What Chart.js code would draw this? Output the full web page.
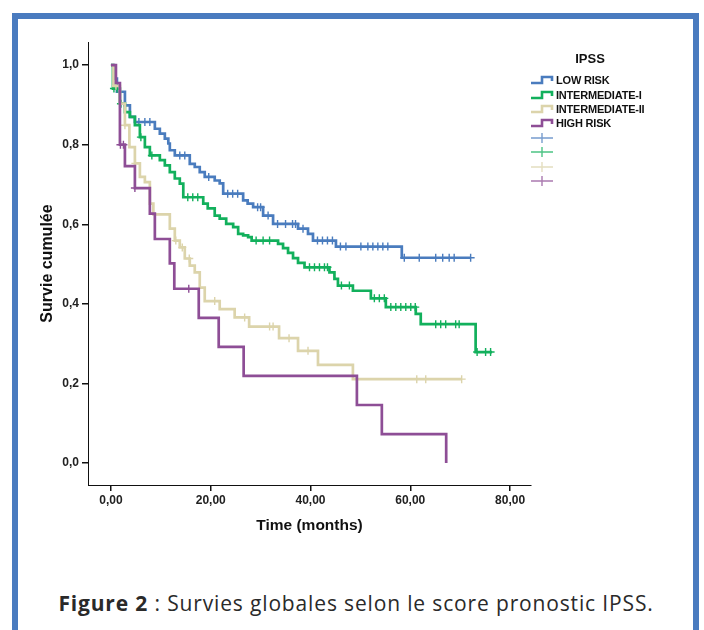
<!DOCTYPE html>
<html lang="fr">

<head>
    <meta charset="UTF-8">
    <title>Figure 2</title>
    <script src="https://cdn.jsdelivr.net/npm/chart.js@4.4.0/dist/chart.umd.min.js"></script>
    <style>
        body { margin: 0; background: #fff; width: 704px; height: 630px; overflow: hidden; position: relative; }
        #frame { position: absolute; left: 12px; top: 13px; width: 675px; height: 700px;
                 border: 6px solid #4a7bbf; border-bottom: none; }
        #km { position: absolute; left: 0; top: 0; }
        #legend { position: absolute; left: 530px; top: 51px; font-family: "Liberation Sans", Arial, sans-serif;
                  font-weight: bold; font-size: 11px; color: #111; }
        #legend .ttl { font-size: 13px; text-align: center; width: 120px; margin-bottom: 7px; }
        #legend .row { height: 14.4px; display: flex; align-items: center; letter-spacing: -0.2px; }
        #legend svg { margin-right: 2px; }
        #caption { position: absolute; left: 0; top: 589px; width: 712px; text-align: center;
                   font-family: "Open Sans", sans-serif; font-size: 21px; letter-spacing: 0.85px; color: #2a2a2a; }
    </style>
</head>

<body>
    <div id="frame"></div>
    <canvas id="km" width="540" height="540"></canvas>
    <div id="legend"></div>
    <div id="caption"><b>Figure 2</b> : Survies globales selon le score pronostic IPSS.</div>

    <script>
        // IPSS groups
        const groupNames = ['LOW RISK', 'INTERMEDIATE-I', 'INTERMEDIATE-II', 'HIGH RISK'];
        const groupColors = ['#4a7cbe', '#12b05c', '#dcd4ab', '#8e4e96'];

        // LOW RISK : event times, survival after each time, censored times
        const lowT = [0, 0.6, 1.2, 2.8, 3.8, 4.8, 8.8, 9.8, 10.8, 11.5, 11.8, 12.8, 15.8, 16.8, 17.8, 18.8, 20.8, 21.8,
            22.5, 26.5, 27.4, 28.5, 30.5, 32.5, 37.5, 39.5, 40.5, 45.1, 58.3, 72.1];
        const lowS = [1, 0.966, 0.933, 0.899, 0.870, 0.857, 0.840, 0.828, 0.815, 0.803, 0.786, 0.773, 0.752, 0.744, 0.731, 0.719, 0.710, 0.703,
            0.677, 0.660, 0.652, 0.643, 0.622, 0.601, 0.589, 0.576, 0.559, 0.544, 0.516, 0.516];
        const lowCens = [5.6, 6.8, 7.8, 13.8, 14.8, 19.6, 23.4, 24.4, 25.4, 29.4, 30.0, 31.5, 33.4, 35.0, 36.4, 37.0, 38.5,
            41.4, 42.4, 43.4, 44.4, 46.0, 47.1, 50.1, 51.5, 52.5, 53.5, 54.5, 55.5, 58.8, 61.8, 65.1, 66.5, 67.8, 68.8, 72.1];

        // INTERMEDIATE-I
        const int1T = [0, 0.4, 1.8, 2.8, 3.8, 4.8, 5.8, 6.8, 7.8, 9.8, 10.8, 11.8, 12.8, 13.8, 14.5, 18.5, 19.4, 20.8, 21.8, 23.1,
            24.5, 25.5, 26.5, 27.5, 28.2, 33.5, 34.5, 35.5, 36.5, 37.5, 38.8, 43.8, 44.8, 45.5, 48.5, 52.1, 55.1, 61.1, 62.1, 73.1, 76.4];
        const int1S = [1, 0.941, 0.903, 0.882, 0.870, 0.849, 0.819, 0.794, 0.773, 0.761, 0.748, 0.731, 0.715, 0.702, 0.668, 0.652, 0.640, 0.622, 0.614, 0.601,
            0.593, 0.576, 0.572, 0.568, 0.559, 0.551, 0.540, 0.528, 0.515, 0.503, 0.492, 0.479, 0.463, 0.446, 0.433, 0.414, 0.392, 0.375, 0.349, 0.279, 0.279];
        const int1Cens = [0.6, 1.2, 2.0, 6.0, 8.2, 15.4, 16.4, 17.4, 29.1, 30.5, 31.8, 39.8, 40.8, 41.8, 42.8, 43.4, 46.2, 47.8,
            52.8, 53.8, 54.8, 56.1, 57.1, 58.1, 59.1, 60.1, 61.0, 65.1, 66.1, 67.1, 69.1, 69.8, 73.4, 75.1, 76.1];

        // INTERMEDIATE-II
        const int2T = [0, 0.5, 1.8, 2.8, 3.7, 4.8, 5.8, 6.8, 7.8, 8.5, 11.8, 12.8, 13.8, 14.8, 15.8, 16.8, 17.8, 18.8, 21.8, 24.8,
            27.7, 33.7, 37.5, 41.5, 48.5, 70.3];
        const int2S = [1, 0.948, 0.903, 0.849, 0.794, 0.753, 0.719, 0.706, 0.652, 0.625, 0.589, 0.559, 0.542, 0.514, 0.496, 0.479, 0.441, 0.407, 0.387, 0.366,
            0.343, 0.314, 0.282, 0.247, 0.211, 0.211];
        const int2Cens = [1.0, 2.8, 4.9, 13.0, 14.3, 15.7, 20.8, 26.8, 31.8, 32.5, 35.7, 39.5, 61.3, 63.1, 70.3];

        // HIGH RISK
        const highT = [0, 1.0, 1.8, 2.8, 4.8, 7.8, 8.8, 11.8, 12.7, 17.6, 21.6, 26.6, 49.3, 54.3, 67.2];
        const highS = [1, 0.955, 0.80, 0.746, 0.691, 0.627, 0.563, 0.502, 0.438, 0.365, 0.292, 0.219, 0.146, 0.073, 0.0];
        const highCens = [1.9, 2.5, 4.8, 15.6];

        const xTicks = [0, 20, 40, 60, 80];
        const yTicks = [0, 0.2, 0.4, 0.6, 0.8, 1.0];

        const curves = [[lowT, lowS, lowCens], [int1T, int1S, int1Cens], [int2T, int2S, int2Cens], [highT, highS, highCens]];

        // survival value in force at time t (step function)
        function survAt(T, S, t) {
            let v = S[0];
            for (let i = 0; i < T.length; i++) {
                if (T[i] <= t) v = S[i];
            }
            return v;
        }

        let datasets = [];
        curves.forEach(function (c, g) {
            datasets.push({
                type: 'line',
                label: groupNames[g],
                data: c[0].map((t, i) => ({ x: t, y: c[1][i] })),
                borderColor: groupColors[g],
                borderWidth: 2.7,
                stepped: 'before',
                pointRadius: 0,
                fill: false,
                order: 3 - g
            });
        });
        curves.forEach(function (c, g) {
            datasets.push({
                type: 'scatter',
                label: groupNames[g] + '-censored',
                data: c[2].map(t => ({ x: t, y: survAt(c[0], c[1], t) })),
                borderColor: groupColors[g],
                backgroundColor: groupColors[g],
                pointStyle: 'cross',
                pointRadius: 4,
                borderWidth: 1.4,
                order: 3 - g
            });
        });

        const tickFont = { family: '"Liberation Sans", Arial, sans-serif', size: 12, weight: 'bold' };
        const titleFont = { family: '"Liberation Sans", Arial, sans-serif', size: 15.5, weight: 'bold' };

        new Chart(document.getElementById('km'), {
            data: { datasets: datasets },
            options: {
                responsive: false,
                animation: false,
                devicePixelRatio: 1,
                layout: { padding: { left: 0, right: 9, top: 42, bottom: 0 } },
                plugins: { legend: { display: false }, tooltip: { enabled: false } },
                scales: {
                    x: {
                        type: 'linear',
                        min: -4.6,
                        max: 84.2,
                        afterBuildTicks: function (scale) { scale.ticks = xTicks.map(v => ({ value: v })); },
                        afterFit: function (scale) { scale.height = 55; },
                        border: { color: '#111', width: 1 },
                        grid: { drawOnChartArea: false, drawTicks: true, tickLength: 6, color: '#111', lineWidth: 1.5 },
                        ticks: {
                            font: tickFont, color: '#222', padding: 2, maxRotation: 0,
                            callback: v => v.toFixed(2).replace('.', ',')
                        },
                        title: { display: true, text: 'Time (months)', font: titleFont, color: '#111', padding: { top: 0, bottom: 5 } }
                    },
                    y: {
                        type: 'linear',
                        min: -0.055,
                        max: 1.058,
                        afterBuildTicks: function (scale) { scale.ticks = yTicks.map(v => ({ value: v })); },
                        afterFit: function (scale) { scale.width = 88; },
                        border: { color: '#111', width: 1 },
                        grid: { drawOnChartArea: false, drawTicks: true, tickLength: 6, color: '#111', lineWidth: 1.5 },
                        ticks: {
                            font: tickFont, color: '#222', padding: 3,
                            callback: v => v.toFixed(1).replace('.', ',')
                        },
                        title: { display: true, text: 'Survie cumulée', font: { family: titleFont.family, size: 16, weight: 'bold' },
                                 color: '#111', padding: { top: 38, bottom: 0 } }
                    }
                }
            }
        });

        // legend (step icons, then censor marks)
        let html = '<div class="ttl">IPSS</div>';
        groupNames.forEach(function (name, g) {
            html += '<div class="row"><svg width="24" height="10"><path d="M1 8 H12 V2 H22 V6" fill="none" stroke="' +
                groupColors[g] + '" stroke-width="2.6"/></svg>' + name + '</div>';
        });
        groupColors.forEach(function (col) {
            html += '<div class="row"><svg width="24" height="12" opacity="0.75"><path d="M1 6 H23 M12 1 V11" fill="none" stroke="' +
                col + '" stroke-width="1.4"/></svg></div>';
        });
        document.getElementById('legend').innerHTML = html;
    </script>
</body>

</html>
